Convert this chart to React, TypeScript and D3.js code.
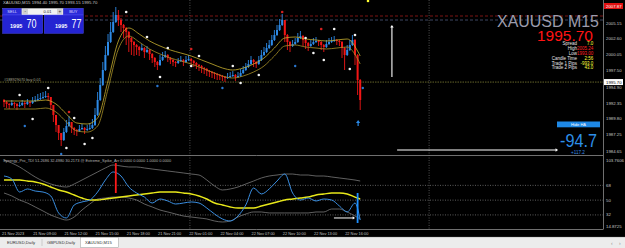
import React from "react";
import * as d3 from "d3";

const FONT = "'Liberation Sans', Arial, Helvetica, sans-serif";

// ---------- Heiken Ashi candles (M15, 21 Nov 06:00 → 22 Nov) ----------
const firstOpen = 1992.83;
const haClose = [
  1992.51, 1992.19, 1992.03, 1992.35, 1992.19, 1991.87, 1992.03, 1992.35, 1992.19, 1992.51,
  1992.35, 1992.67, 1992.83, 1992.99, 1993.15, 1993.31, 1993.47, 1993.31, 1992.03, 1990.43,
  1988.83, 1987.55, 1986.43, 1987.71, 1988.67, 1989.31, 1988.35, 1988.03, 1987.87, 1988.19,
  1988.35, 1988.03, 1988.19, 1988.35, 1988.83, 1990.43, 1992.83, 1995.23, 1997.63, 2000.03,
  2002.11, 2003.71, 2005.31, 2006.43, 2005.63, 2004.83, 2004.35, 2003.71, 2002.75, 2002.11,
  2001.63, 2001.31, 2000.83, 2001.15, 2000.51, 2000.83, 2000.19, 1999.55, 1998.91, 1998.43,
  1999.23, 1999.71, 2000.03, 1999.55, 1999.23, 1998.91, 1998.75, 1999.07, 1999.23, 1998.91,
  1999.23, 1999.39, 1999.07, 1998.75, 1998.43, 1998.27, 1997.95, 1997.79, 1997.47, 1997.31,
  1997.15, 1996.99, 1996.83, 1996.67, 1996.51, 1996.35, 1996.51, 1996.67, 1996.83, 1996.51,
  1996.67, 1997.15, 1997.63, 1998.11, 1998.59, 1999.23, 1998.91, 1998.59, 1999.23, 2000.03,
  2000.51, 2001.15, 2001.63, 2002.43, 2003.23, 2004.03, 2004.83, 2005.63, 2003.23, 2002.11,
  2001.47, 2001.79, 2002.11, 2002.75, 2003.07, 2002.43, 2001.95, 2001.47, 2001.79, 2002.11,
  2002.27, 2002.11, 2001.63, 2001.31, 2001.79, 2002.11, 2002.27, 2002.43, 2002.27, 2002.11,
  2001.15, 2000.03, 2000.83, 2001.63, 2002.43, 2000.03, 1996.03, 1992.83,
];
const haHigh = [
  1992.99, 1992.67, 1992.35, 1992.83, 1992.51, 1992.35, 1992.51, 1992.83, 1992.67, 1992.99,
  1992.67, 1993.31, 1993.47, 1993.79, 1993.95, 1994.11, 1994.27, 1993.95, 1993.31, 1992.03,
  1990.43, 1988.83, 1987.55, 1988.35, 1989.63, 1990.27, 1989.31, 1988.51, 1988.19, 1988.83,
  1988.99, 1988.51, 1988.83, 1989.15, 1989.79, 1991.55, 1994.11, 1996.35, 1998.91, 2001.47,
  2003.39, 2005.31, 2006.91, 2007.71, 2007.23, 2005.95, 2004.99, 2004.51, 2003.87, 2002.91,
  2002.27, 2001.79, 2001.47, 2001.79, 2001.31, 2001.47, 2000.99, 2000.35, 1999.71, 1999.07,
  2000.03, 2000.51, 2000.67, 2000.19, 1999.71, 1999.39, 1999.07, 1999.55, 1999.87, 1999.39,
  1999.87, 2000.03, 1999.55, 1999.23, 1998.91, 1998.59, 1998.43, 1998.11, 1997.95, 1997.63,
  1997.47, 1997.31, 1997.15, 1996.99, 1996.83, 1996.67, 1997.15, 1997.31, 1997.47, 1996.99,
  1997.31, 1997.79, 1998.27, 1998.75, 1999.23, 1999.87, 1999.39, 1999.07, 1999.87, 2000.83,
  2001.31, 2001.95, 2002.43, 2003.23, 2004.03, 2004.83, 2005.79, 2006.59, 2005.63, 2003.39,
  2002.27, 2002.43, 2002.75, 2003.55, 2003.87, 2003.23, 2002.59, 2002.11, 2002.43, 2002.75,
  2002.91, 2002.43, 2002.27, 2001.79, 2002.43, 2002.75, 2002.91, 2003.07, 2002.59, 2002.43,
  2002.27, 2001.31, 2001.63, 2002.43, 2003.23, 2002.59, 2000.19, 1996.19,
];
const haLow = [
  1991.71, 1991.55, 1991.39, 1991.87, 1991.55, 1991.23, 1991.71, 1991.87, 1991.55, 1992.03,
  1991.71, 1992.19, 1992.51, 1992.67, 1992.83, 1992.99, 1993.15, 1992.67, 1991.23, 1989.31,
  1987.71, 1986.43, 1985.47, 1986.27, 1987.55, 1988.51, 1987.55, 1987.23, 1987.07, 1987.71,
  1988.03, 1987.39, 1987.87, 1988.03, 1988.19, 1988.67, 1990.27, 1992.67, 1995.07, 1997.47,
  1999.87, 2001.95, 2003.55, 2005.15, 2004.67, 2003.71, 2002.75, 2001.63, 2000.51, 2000.03,
  1999.87, 2000.03, 1999.87, 2000.67, 1999.55, 2000.35, 1999.23, 1998.75, 1998.11, 1997.63,
  1998.27, 1999.07, 1999.55, 1998.91, 1998.59, 1998.27, 1998.11, 1998.59, 1998.91, 1998.27,
  1998.75, 1999.07, 1998.43, 1998.11, 1997.79, 1997.47, 1997.15, 1996.99, 1996.67, 1996.51,
  1996.35, 1996.19, 1996.03, 1996.03, 1995.87, 1995.71, 1996.19, 1996.35, 1996.51, 1995.87,
  1996.35, 1996.51, 1996.99, 1997.47, 1997.95, 1998.43, 1998.11, 1997.95, 1998.43, 1999.07,
  1999.87, 2000.35, 2000.99, 2001.47, 2002.27, 2003.07, 2003.87, 2004.67, 2002.11, 2000.83,
  2000.51, 2001.31, 2001.63, 2001.95, 2002.59, 2001.47, 2000.99, 2000.67, 2001.31, 2001.63,
  2001.95, 2001.47, 2000.83, 2000.51, 2001.15, 2001.63, 2001.95, 2002.11, 2001.63, 2001.47,
  1999.55, 1997.63, 1999.87, 2000.67, 2001.47, 1998.43, 1993.63, 1991.23,
];

// ---------- envelope bands (yellow) ----------
const bandIdx = [0, 4, 8, 12, 16, 20, 24, 28, 32, 36, 40, 44, 48, 52, 56, 60, 64, 68, 72, 76, 80, 84, 88, 92, 96, 100, 104, 108, 112, 116, 120, 124, 128, 132, 136, 137];
const bandUpper = [1992.67, 1992.67, 1992.67, 1992.67, 1992.83, 1992.19, 1990.59, 1989.15, 1988.99, 1989.95, 1995.87, 2002.27, 2004.35, 2003.39, 2002.27, 2001.47, 2000.83, 2000.35, 1999.87, 1999.23, 1998.59, 1997.95, 1997.63, 1997.95, 1998.59, 1999.55, 2001.15, 2002.75, 2002.91, 2002.59, 2002.43, 2002.27, 2002.43, 2002.59, 2000.67, 1999.87];
const bandLower = [1991.39, 1991.39, 1991.39, 1991.39, 1991.55, 1990.91, 1989.31, 1987.87, 1987.71, 1988.67, 1994.59, 2000.99, 2003.07, 2002.11, 2000.99, 2000.19, 1999.55, 1999.07, 1998.59, 1997.95, 1997.31, 1996.67, 1996.35, 1996.67, 1997.31, 1998.27, 1999.87, 2001.47, 2001.63, 2001.31, 2001.15, 2000.99, 2001.15, 2001.31, 1999.39, 1998.59];

// ---------- fractal / signal dots ----------
const whiteDots: [number, number][] = [[6, 1993.63], [11, 1989.79], [17, 1994.75], [24, 1985.15], [27, 1989.95], [31, 1985.79], [34, 1986.75], [47, 2006.91], [55, 2002.91], [60, 1996.51], [63, 2001.15], [72, 1998.27], [75, 1999.87], [88, 1998.27], [91, 1995.55], [98, 1996.83], [116, 2002.75], [119, 2000.35], [123, 1999.23], [127, 2004.19], [133, 1997.79], [135, 2003.23]];
const redDots: [number, number][] = [[25, 1990.91], [72, 2000.99], [107, 2006.91], [122, 2004.19]];
const blueDots: [number, number][] = [[8, 1988.67], [22, 1984.19], [59, 1995.07], [84, 1994.75], [112, 1998.27], [138, 1994.75]];
const yellowDots: [number, number][] = [[140, 2008.67]];
const buyArrow: [number, number] = [136.2, 1989.31];

// ---------- levels ----------
const priceTicks = [2005.15, 2002.6, 2000.05, 1997.5, 1994.9, 1992.35, 1989.8, 1987.25, 1984.65];
const priceTickLabels = ["2005.15", "2002.60", "2000.05", "1997.50", "1994.90", "1992.35", "1989.80", "1987.25", "1984.65"];
const bidPrice = 1995.7;
const alertPrice = 2007.87;
const redLevel = 2006.27;
const blueLevel = 2005.63;
const separatorBars = [71.5, 163.5];

const timeLabelBars = [0, 12, 24, 36, 48, 60, 72, 84, 96, 108, 120, 132];
const timeLabels = ["21 Nov 2023", "21 Nov 09:00", "21 Nov 12:00", "21 Nov 15:00", "21 Nov 18:00", "21 Nov 21:00", "22 Nov 01:00", "22 Nov 04:00", "22 Nov 07:00", "22 Nov 10:00", "22 Nov 13:00", "22 Nov 16:00"];

// ---------- Synergy TDI ----------
const tdiIdx = [0, 3, 6, 9, 12, 15, 18, 21, 24, 27, 30, 33, 36, 39, 42, 45, 48, 51, 54, 57, 60, 63, 66, 69, 72, 75, 78, 81, 84, 87, 90, 93, 96, 99, 102, 105, 108, 111, 114, 117, 120, 123, 126, 129, 132, 135, 137];
const tdiRsi = [79.4, 75.8, 59.9, 63.6, 61.1, 59.9, 55.1, 34.4, 28.3, 44.1, 47.8, 50.2, 59.9, 74.5, 84.3, 79.4, 66.0, 58.7, 53.8, 46.5, 51.4, 49.0, 45.3, 46.5, 47.8, 46.5, 40.4, 33.1, 27.1, 24.6, 30.7, 44.1, 64.8, 57.5, 63.6, 73.3, 81.8, 58.7, 50.2, 52.6, 49.0, 51.4, 50.2, 42.9, 35.6, 46.5, 25.8];
const tdiBase = [74.5, 74.5, 74.5, 73.3, 72.1, 69.7, 66.0, 62.4, 59.9, 56.3, 52.6, 50.2, 50.2, 51.4, 52.6, 53.8, 55.1, 56.3, 57.5, 58.7, 59.9, 59.9, 59.9, 58.7, 57.5, 55.1, 51.4, 46.5, 44.1, 41.7, 40.4, 40.4, 40.4, 42.9, 45.3, 47.8, 50.2, 51.4, 52.6, 53.8, 56.3, 57.5, 58.7, 58.7, 57.5, 53.8, 51.4];
const tdiBandUp = [98.9, 95.2, 90.4, 84.3, 78.2, 73.3, 69.7, 67.2, 66.0, 69.7, 74.5, 79.4, 84.3, 89.2, 92.8, 91.6, 90.4, 90.4, 89.2, 87.9, 86.7, 85.5, 84.3, 83.1, 81.8, 80.6, 74.5, 67.2, 62.4, 63.6, 66.0, 69.7, 73.3, 77.0, 79.4, 80.6, 81.8, 81.8, 80.6, 80.6, 79.4, 79.4, 78.2, 77.0, 75.8, 74.5, 73.3];
const tdiBandDn = [58.7, 55.1, 50.2, 46.5, 41.7, 36.8, 31.9, 28.3, 25.8, 29.5, 38.0, 45.3, 51.4, 52.6, 53.8, 53.8, 52.6, 50.2, 45.3, 41.7, 38.0, 35.6, 33.1, 30.7, 29.5, 28.3, 27.1, 24.6, 23.4, 24.6, 29.5, 33.1, 35.6, 35.6, 34.4, 34.4, 34.4, 34.4, 34.4, 34.4, 35.6, 35.6, 39.2, 39.2, 35.6, 30.7, 27.1];
const tdiRange = [14.8725, 103.7606];
const tdiLevels = [68, 50, 32];
const spikeRed = { bar: 43, from: 95.2, to: 58.7 };
const spikeBlue = { bar: 136, from: 58.7, to: 22.2 };

// ---------- info panel ----------
const infoLabels = ["Spread", "High", "Low", "Candle Time", "Trade 1 Pips", "Trade 2 Pips"];
const infoValues = ["7.0", "2005.24", "1993.00", "2:56", "-993.0", "43.0"];
const infoColors = ["#ffff3c", "#ff2020", "#ff2020", "#ffff3c", "#ffff3c", "#ffff3c"];
const tabs = ["EURUSD,Daily", "GBPUSD,Daily", "XAUUSD,M15"];

function head(px: number, py: number, dir: "up" | "right", s: number) {
  if (dir === "up") return `${px},${py} ${px - s * 0.7},${py + s} ${px + s * 0.7},${py + s}`;
  return `${px},${py} ${px - s},${py - s * 0.7} ${px - s},${py + s * 0.7}`;
}

export default function App() {
  const x = d3.scaleLinear().domain([0, 230]).range([4, 602]);
  const yP = d3.scaleLinear().domain([1984.03, 2008.83]).range([155, 0]);
  const yI = d3.scaleLinear().domain(tdiRange).range([229, 156]);

  const candles = haClose.map((c, i) => {
    const o = i === 0 ? firstOpen : haClose[i - 1];
    return { i, o, c, h: haHigh[i], l: haLow[i], up: c >= o };
  });

  const bandPath = (vals: number[]) =>
    d3.line<number>().x((_, k) => x(bandIdx[k])).y((v) => yP(v)).curve(d3.curveMonotoneX)(vals) || "";
  const tdiPath = (vals: number[], curve: d3.CurveFactory) =>
    d3.line<number>().x((_, k) => x(tdiIdx[k])).y((v) => yI(v)).curve(curve)(vals) || "";

  const BLUE = "#2d8ae6";
  const RED = "#f21616";

  const vArrowX = x(149.2);
  const vArrowTop = yP(2004.83);
  const vArrowBot = yP(1996.51);
  const hArrowY = yP(1984.83);
  const hArrowL = x(151.2);
  const hArrowR = x(213.1);
  const iArrowY = yI(28.3);
  const iArrowL = x(126.9);
  const iArrowR = x(135);

  return (
    <>
      <style>{"html,body{margin:0;padding:0;background:#000;}"}</style>
      <svg width={625} height={248} style={{ display: "block", background: "#000" }} fontFamily={FONT}>
        <defs>
          <clipPath id="mainClip"><rect x={0} y={0} width={603} height={155} /></clipPath>
          <clipPath id="indClip"><rect x={0} y={156} width={603} height={73} /></clipPath>
        </defs>

        {/* separators */}
        {separatorBars.map((b, k) => (
          <line key={k} x1={x(b)} x2={x(b)} y1={0} y2={229} stroke="#8a8a8a" strokeWidth={0.6} strokeDasharray="1,1.5" />
        ))}

        <g clipPath="url(#mainClip)">
          {/* level lines */}
          <line x1={0} x2={603} y1={yP(redLevel)} y2={yP(redLevel)} stroke="#b01c1c" strokeWidth={0.7} strokeDasharray="3,2" />
          <line x1={0} x2={603} y1={yP(blueLevel)} y2={yP(blueLevel)} stroke="#56648e" strokeWidth={0.7} strokeDasharray="3,2" />
          <line x1={0} x2={603} y1={yP(bidPrice)} y2={yP(bidPrice)} stroke="#8e8e3c" strokeWidth={0.7} strokeDasharray="1.5,1" />
          <text x={4} y={yP(bidPrice) - 1.2} fontSize={3.8} fill="#a8a890">#188929070 buy 0.01</text>

          {/* candles */}
          {candles.map((d) => {
            const col = d.up ? BLUE : RED;
            const top = yP(Math.max(d.o, d.c));
            const bot = yP(Math.min(d.o, d.c));
            return (
              <g key={d.i}>
                <line x1={x(d.i)} x2={x(d.i)} y1={yP(d.h)} y2={yP(d.l)} stroke={col} strokeWidth={0.9} />
                <rect x={x(d.i) - 1} y={top} width={2} height={Math.max(0.9, bot - top)} fill={col} />
              </g>
            );
          })}

          {/* bands */}
          <path d={bandPath(bandUpper)} fill="none" stroke="#c8b030" strokeWidth={0.8} />
          <path d={bandPath(bandLower)} fill="none" stroke="#a89028" strokeWidth={0.8} />

          {/* dots */}
          {whiteDots.map(([b, p], k) => <circle key={"w" + k} cx={x(b)} cy={yP(p)} r={1.3} fill="#f4f4f4" />)}
          {redDots.map(([b, p], k) => <circle key={"r" + k} cx={x(b)} cy={yP(p)} r={1.3} fill="#d42020" />)}
          {blueDots.map(([b, p], k) => <circle key={"b" + k} cx={x(b)} cy={yP(p)} r={1.2} fill="#2a78d0" />)}
          {yellowDots.map(([b, p], k) => <circle key={"y" + k} cx={x(b)} cy={yP(p)} r={1.3} fill="#ffff30" />)}

          {/* buy arrow */}
          <line x1={x(buyArrow[0])} x2={x(buyArrow[0])} y1={yP(buyArrow[1]) + 1} y2={yP(buyArrow[1]) + 4} stroke="#2a8ae8" strokeWidth={1.2} />
          <polygon points={head(x(buyArrow[0]), yP(buyArrow[1]) - 2, "up", 3)} fill="#2a8ae8" />

          {/* white annotation arrows */}
          <line x1={vArrowX} x2={vArrowX} y1={vArrowBot} y2={vArrowTop + 2} stroke="#ffffff" strokeWidth={1.1} />
          <polygon points={head(vArrowX, vArrowTop, "up", 2.5)} fill="#ffffff" />
          <line x1={hArrowL} x2={hArrowR - 2} y1={hArrowY} y2={hArrowY} stroke="#ffffff" strokeWidth={1.1} />
          <polygon points={head(hArrowR, hArrowY, "right", 2.5)} fill="#ffffff" />
        </g>

        {/* info line */}
        <text x={3} y={4.4} fontSize={4.3} fill="#c8c8c8">XAUUSD,M15  1994.40 1995.70 1993.15 1995.70</text>

        {/* trade panel */}
        <g>
          <rect x={2.7} y={8.3} width={19} height={6.7} fill="#2b2bd9" stroke="#6464ff" strokeWidth={0.4} />
          <text x={12.2} y={13.1} fontSize={4} fill="#dcdcff" textAnchor="middle">SELL</text>
          <rect x={21.7} y={8.3} width={41.6} height={6.7} fill="#f2f2f2" />
          <rect x={22.4} y={9} width={5.5} height={5.3} fill="#cfcfcf" />
          <text x={25.15} y={13} fontSize={4.5} fill="#333" textAnchor="middle">-</text>
          <text x={47.5} y={13.1} fontSize={4} fill="#222" textAnchor="middle">0.01</text>
          <rect x={57} y={9} width={5.5} height={5.3} fill="#cfcfcf" />
          <text x={59.75} y={13.2} fontSize={4.5} fill="#333" textAnchor="middle">+</text>
          <rect x={63.3} y={8.3} width={20} height={6.7} fill="#2b2bd9" stroke="#6464ff" strokeWidth={0.4} />
          <text x={73.3} y={13.1} fontSize={4} fill="#dcdcff" textAnchor="middle">BUY</text>
          <rect x={2.7} y={15} width={40} height={18.3} fill="#2424d2" stroke="#4a4af0" strokeWidth={0.5} />
          <rect x={44.3} y={15} width={39} height={18.3} fill="#2424d2" stroke="#4a4af0" strokeWidth={0.5} />
          <text x={10} y={27.6} fontSize={4.6} fontWeight="bold" fill="#ffffff" textLength={12.3} lengthAdjust="spacingAndGlyphs">1995</text>
          <text x={26.5} y={28.2} fontSize={12.5} fill="#ffffff" textLength={10} lengthAdjust="spacingAndGlyphs">70</text>
          <text x={55} y={27.6} fontSize={4.6} fontWeight="bold" fill="#ffffff" textLength={12.3} lengthAdjust="spacingAndGlyphs">1995</text>
          <text x={71.5} y={28.2} fontSize={12.5} fill="#ffffff" textLength={10} lengthAdjust="spacingAndGlyphs">77</text>
        </g>

        {/* top-right symbol info */}
        <text x={497} y={27} fontSize={16} fill="#9c9cac" textLength={102} lengthAdjust="spacingAndGlyphs">XAUUSD M15</text>
        <text x={537} y={41.2} fontSize={15} fill="#ff1414" textLength={56} lengthAdjust="spacingAndGlyphs">1995.70</text>
        {infoLabels.map((t, k) => (
          <g key={t}>
            <text x={577} y={45.4 + k * 4.8} fontSize={4.5} fill="#e6e6e6" textAnchor="end">{t}</text>
            <text x={593.3} y={45.4 + k * 4.8} fontSize={4.5} fill={infoColors[k]} textAnchor="end">{infoValues[k]}</text>
          </g>
        ))}

        {/* Hide HA + pips */}
        <rect x={557} y={121.5} width={43} height={5.8} fill="#1e88e5" />
        <text x={578.5} y={125.9} fontSize={4} fill="#ffffff" textAnchor="middle">Hide HA</text>
        <text x={560} y={147.2} fontSize={18} fill="#2d8fe8" textLength={37} lengthAdjust="spacingAndGlyphs">-94.7</text>
        <text x={578} y={154.4} fontSize={4.6} fill="#3a8fe8" textAnchor="middle">+117.2</text>

        {/* frames */}
        <line x1={0} x2={603} y1={155.5} y2={155.5} stroke="#8c8c8c" strokeWidth={0.8} />
        <line x1={0} x2={603} y1={229.5} y2={229.5} stroke="#8c8c8c" strokeWidth={0.8} />
        <line x1={603.5} x2={603.5} y1={0} y2={229.5} stroke="#8c8c8c" strokeWidth={0.8} />

        {/* price axis */}
        {priceTicks.map((p, k) => (
          <text key={k} x={606} y={yP(p)} fontSize={4.3} fill="#c8c8c8" dominantBaseline="central">{priceTickLabels[k]}</text>
        ))}
        <rect x={604} y={yP(alertPrice) - 3} width={19} height={6} fill="#e01010" />
        <text x={606} y={yP(alertPrice)} fontSize={4.3} fill="#ffffff" dominantBaseline="central">2007.87</text>
        <rect x={604} y={yP(bidPrice) - 3} width={19} height={6} fill="#ffffff" />
        <text x={606} y={yP(bidPrice)} fontSize={4.3} fill="#000000" dominantBaseline="central">1995.70</text>

        {/* indicator */}
        <g clipPath="url(#indClip)">
          {tdiLevels.map((v) => (
            <line key={v} x1={0} x2={603} y1={yI(v)} y2={yI(v)} stroke="#9a9a9a" strokeWidth={0.6} strokeDasharray="1,1.5" />
          ))}
          <path d={tdiPath(tdiBandUp, d3.curveMonotoneX)} fill="none" stroke="#8a8a8a" strokeWidth={0.7} />
          <path d={tdiPath(tdiBandDn, d3.curveMonotoneX)} fill="none" stroke="#8a8a8a" strokeWidth={0.7} />
          <path d={tdiPath(tdiBase, d3.curveMonotoneX)} fill="none" stroke="#e8e81a" strokeWidth={1.4} />
          <path d={tdiPath(tdiRsi, d3.curveMonotoneX)} fill="none" stroke="#3a8ee0" strokeWidth={1} />
          <line x1={x(spikeRed.bar)} x2={x(spikeRed.bar)} y1={yI(spikeRed.from)} y2={yI(spikeRed.to)} stroke="#ff1a1a" strokeWidth={1.8} />
          <line x1={x(spikeBlue.bar)} x2={x(spikeBlue.bar)} y1={yI(spikeBlue.from)} y2={yI(spikeBlue.to)} stroke="#1e90ff" strokeWidth={1.8} />
          <line x1={iArrowL} x2={iArrowR - 2} y1={iArrowY} y2={iArrowY} stroke="#ffffff" strokeWidth={1} />
          <polygon points={head(iArrowR, iArrowY, "right", 2.3)} fill="#ffffff" />
        </g>
        <text x={3} y={162.3} fontSize={3.9} fill="#b4b4b4">Synergy_Pro_TDI 51.2686 32.4980 30.2173 @ Extreme_Spike_Arr 0.0000 0.0000 1.0000 0.0000</text>
        <text x={606} y={160} fontSize={4.3} fill="#c8c8c8" dominantBaseline="central">103.7606</text>
        {tdiLevels.map((v) => (
          <text key={v} x={606} y={yI(v)} fontSize={4.3} fill="#c8c8c8" dominantBaseline="central">{v}</text>
        ))}
        <text x={606} y={226.5} fontSize={4.3} fill="#c8c8c8" dominantBaseline="central">14.8725</text>

        {/* time axis */}
        {timeLabelBars.map((b, k) => (
          <text key={k} x={x(b) - 2} y={234.5} fontSize={3.9} fill="#c0c0c0">{timeLabels[k]}</text>
        ))}

        {/* tab bar */}
        <rect x={0} y={237} width={625} height={11} fill="#ececec" />
        <line x1={0} x2={625} y1={237.3} y2={237.3} stroke="#b8b8b8" strokeWidth={0.5} />
        <rect x={80.5} y={237.3} width={38} height={10} fill="#ffffff" stroke="#9a9a9a" strokeWidth={0.5} />
        <line x1={42} x2={42} y1={239} y2={246} stroke="#a8a8a8" strokeWidth={0.5} />
        {tabs.map((t, k) => (
          <text key={t} x={[7, 47, 85][k]} y={244.2} fontSize={4.2} fill="#333333">{t}</text>
        ))}
        <text x={611} y={244.5} fontSize={5} fill="#909090">‹</text>
        <text x={619} y={244.5} fontSize={5} fill="#909090">›</text>
      </svg>
    </>
  );
}
